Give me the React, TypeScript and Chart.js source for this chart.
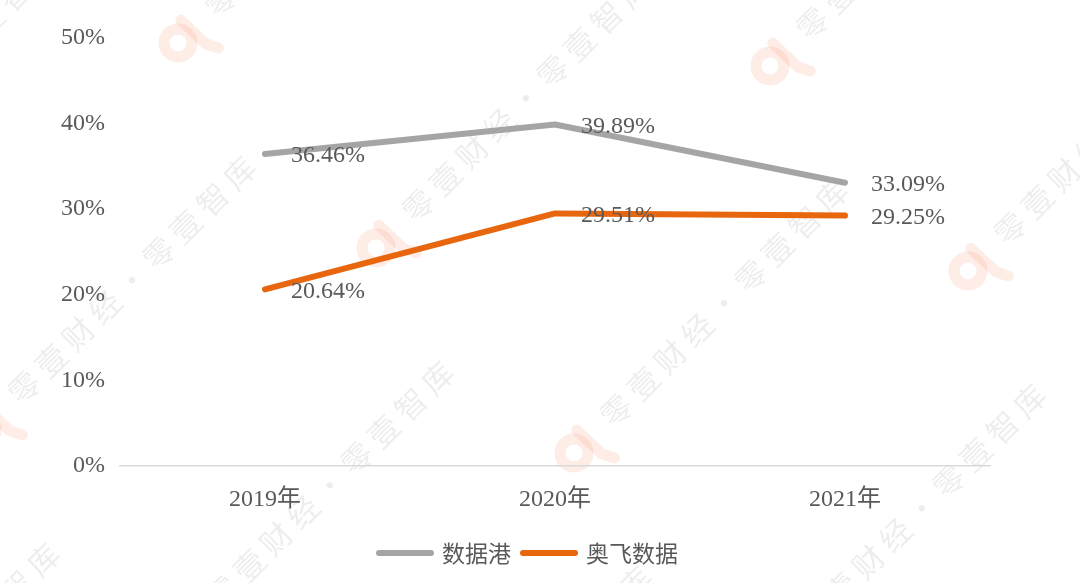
import React, { useEffect, useRef } from 'react';
import { Chart, registerables } from 'chart.js';

Chart.register(...registerables);

const categories = ['2019年', '2020年', '2021年'];
const seriesNames = ['数据港', '奥飞数据'];
const shujugangValues = [36.46, 39.89, 33.09];
const aofeiValues = [20.64, 29.51, 29.25];
const yTickValues = [0, 10, 20, 30, 40, 50];
const seriesColors = ['#A5A5A5', '#E8660E'];
const watermarkText = '零壹财经·零壹智库';

const SERIF = "'Liberation Serif', 'Noto Sans CJK SC', serif";
const CJK = "'Noto Sans CJK SC', 'Liberation Serif', sans-serif";
const TEXT_COLOR = '#595959';

const watermarkPlugin = {
  id: 'watermark',
  beforeDraw(chart: any) {
    const ctx = chart.ctx;
    const w = chart.width;
    const h = chart.height;
    ctx.save();
    for (let i = -5; i <= 5; i++) {
      for (let j = -2; j <= 3; j++) {
        const x = -18 + i * 198 + j * 592;
        const y = 430 + i * 205 + j * 23;
        if (x < -450 || x > w + 60 || y < -60 || y > h + 450) continue;
        ctx.save();
        ctx.translate(x, y);
        ctx.rotate(-Math.PI / 4);
        // logo
        ctx.strokeStyle = 'rgba(246,130,90,0.15)';
        ctx.lineWidth = 11;
        ctx.lineCap = 'round';
        ctx.beginPath();
        ctx.arc(0, 0, 14, 0, Math.PI * 2);
        ctx.stroke();
        ctx.beginPath();
        ctx.moveTo(18, -14);
        ctx.lineTo(19, 20);
        ctx.lineTo(25, 32);
        ctx.stroke();
        // text
        ctx.fillStyle = 'rgba(0,0,0,0.07)';
        ctx.font = `31px ${CJK}`;
        ctx.textAlign = 'center';
        ctx.textBaseline = 'middle';
        const chars = Array.from(watermarkText);
        chars.forEach((c, k) => {
          ctx.fillText(c, 60 + k * 38, 0);
        });
        ctx.restore();
      }
    }
    ctx.restore();
  },
};

const dataLabelPlugin = {
  id: 'dataLabels',
  afterDatasetsDraw(chart: any) {
    const ctx = chart.ctx;
    ctx.save();
    ctx.font = `24px ${SERIF}`;
    ctx.fillStyle = TEXT_COLOR;
    ctx.textAlign = 'left';
    ctx.textBaseline = 'middle';
    chart.data.datasets.forEach((ds: any, di: number) => {
      const meta = chart.getDatasetMeta(di);
      meta.data.forEach((el: any, idx: number) => {
        const v = ds.data[idx] as number;
        ctx.fillText(v.toFixed(2) + '%', el.x + 26, el.y + 2);
      });
    });
    ctx.restore();
  },
};

const legendPlugin = {
  id: 'customLegend',
  afterDraw(chart: any) {
    const ctx = chart.ctx;
    ctx.save();
    ctx.font = `23px ${CJK}`;
    const lineLen = 58;
    const gapText = 8;
    const gapItem = 9;
    const items = chart.data.datasets.map((ds: any) => ({
      label: ds.label as string,
      color: ds.borderColor as string,
      w: ctx.measureText(ds.label).width,
    }));
    let total = 0;
    items.forEach((it: any, k: number) => {
      total += lineLen + gapText + it.w + (k < items.length - 1 ? gapItem : 0);
    });
    const cy = 553;
    let x = chart.width / 2 - 13 - total / 2;
    items.forEach((it: any) => {
      ctx.strokeStyle = it.color;
      ctx.lineWidth = 6;
      ctx.lineCap = 'round';
      ctx.beginPath();
      ctx.moveTo(x + 3, cy);
      ctx.lineTo(x + lineLen - 3, cy);
      ctx.stroke();
      x += lineLen + gapText;
      ctx.fillStyle = TEXT_COLOR;
      ctx.textAlign = 'left';
      ctx.textBaseline = 'middle';
      ctx.fillText(it.label, x, cy);
      x += it.w + gapItem;
    });
    ctx.restore();
  },
};

export default function App() {
  const canvasRef = useRef<HTMLCanvasElement | null>(null);

  useEffect(() => {
    if (!canvasRef.current) return;
    const chart = new Chart(canvasRef.current, {
      type: 'line',
      data: {
        labels: categories,
        datasets: [
          {
            label: seriesNames[0],
            data: shujugangValues,
            borderColor: seriesColors[0],
            backgroundColor: seriesColors[0],
            borderWidth: 6,
            pointRadius: 0,
            pointHoverRadius: 0,
            tension: 0,
            borderCapStyle: 'round',
            borderJoinStyle: 'round',
            fill: false,
          },
          {
            label: seriesNames[1],
            data: aofeiValues,
            borderColor: seriesColors[1],
            backgroundColor: seriesColors[1],
            borderWidth: 6,
            pointRadius: 0,
            pointHoverRadius: 0,
            tension: 0,
            borderCapStyle: 'round',
            borderJoinStyle: 'round',
            fill: false,
          },
        ],
      },
      options: {
        responsive: false,
        animation: false,
        layout: { padding: { top: 38, right: 90, bottom: 0, left: 0 } },
        plugins: {
          legend: { display: false },
          tooltip: { enabled: false },
          title: { display: false },
        },
        scales: {
          x: {
            type: 'category',
            offset: true,
            grid: { display: false, drawTicks: false },
            border: { display: true, color: '#D9D9D9', width: 1.5 },
            ticks: {
              font: { family: SERIF, size: 24 },
              color: TEXT_COLOR,
              padding: 19,
              maxRotation: 0,
            },
            afterFit: (s: any) => {
              s.height = 117;
            },
          },
          y: {
            min: 0,
            max: 50,
            grid: { display: false, drawTicks: false },
            border: { display: false },
            ticks: {
              font: { family: SERIF, size: 24 },
              color: TEXT_COLOR,
              padding: 15,
              callback: (v: any) => `${v}%`,
            },
            afterBuildTicks: (s: any) => {
              s.ticks = yTickValues.map((v) => ({ value: v }));
            },
            afterFit: (s: any) => {
              s.width = 120;
            },
          },
        },
      },
      plugins: [watermarkPlugin, dataLabelPlugin, legendPlugin],
    });
    return () => chart.destroy();
  }, []);

  return (
    <div
      style={{
        position: 'fixed',
        left: 0,
        top: 0,
        width: 1080,
        height: 583,
        background: '#ffffff',
      }}
    >
      <canvas ref={canvasRef} width={1080} height={583} />
    </div>
  );
}
